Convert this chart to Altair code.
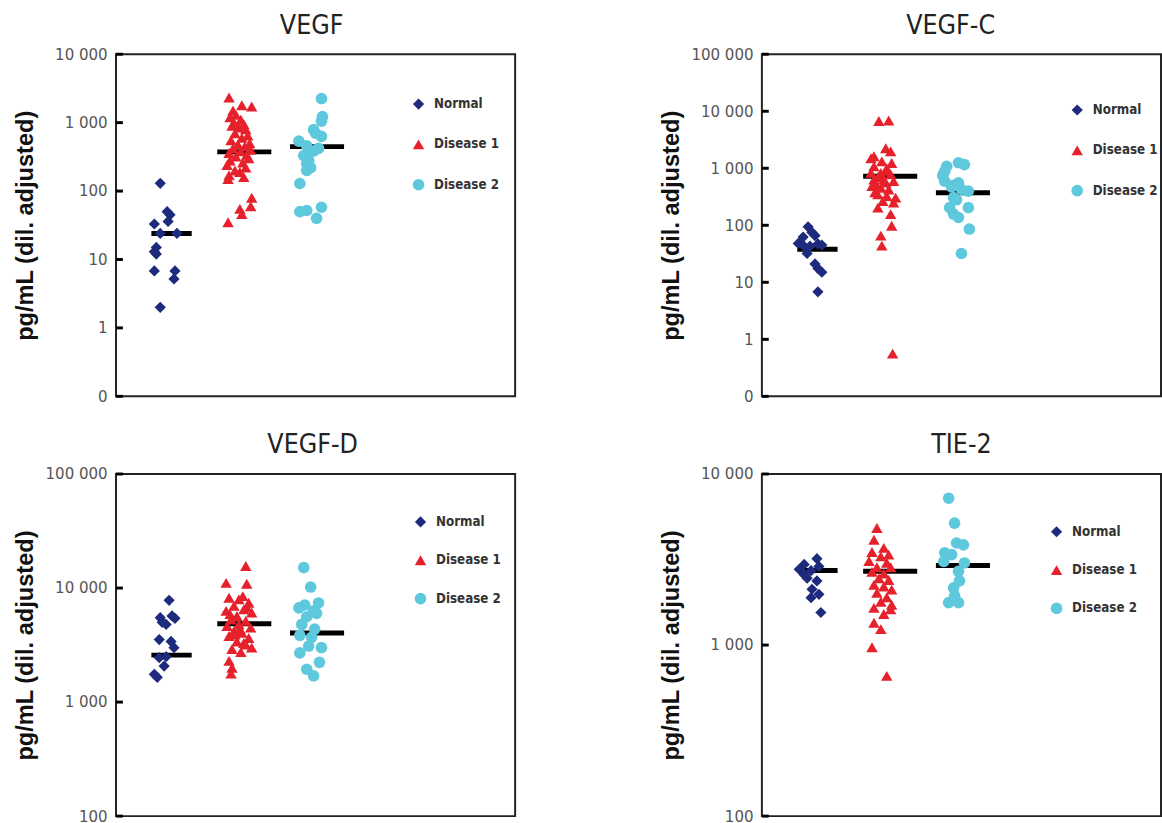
import altair as alt
import pandas as pd

# ---------------- data ----------------
GROUPS = ["Normal", "Disease 1", "Disease 2"]
COLORS = ["#1e2b7d", "#e6212b", "#5ec8dc"]
SHAPES = ["diamond", "triangle-up", "circle"]

# VEGF
vegf_normal = [130, 50, 45, 36, 33, 24, 24, 15, 13, 12, 6.8, 6.8, 5.2, 2.0]
vegf_normal_jit = [-5, 2, 5, 3, -11, -5, 12, -9, -11, -9, -11, 10, 9, -5]
vegf_d1 = [2330, 1800, 1720, 1500, 1300, 1200, 1100, 1000, 950, 900, 850, 800, 700, 650,
           600, 550, 500, 480, 450, 420, 400, 380, 360, 340, 320, 300, 280, 260, 240, 220,
           200, 190, 170, 160, 150, 80, 60, 55, 46, 35]
vegf_d1_jit = [-9, 4, 14, -5, -2, -8, 3, -4, 6, -6, 1, 8, -3, 10, 4, -7, 12, 0, 7, -5,
               13, 3, -9, 9, -2, 11, -8, 5, -11, 8, -3, 2, -9, 6, -10, 14, 13, 2, 4, -10]
vegf_d2 = [2250, 1230, 1050, 790, 700, 630, 537, 457, 420, 385, 330, 280, 250, 220, 200,
           129, 58, 52, 50, 40]
vegf_d2_jit = [12, 13, 12, 4, 6, 12, -11, -3, 9, 4, -6, -1, -3, 1, -3, -10, 12, -3, -10, 7]
vegf_median = [24, 374, 446]

# VEGF-C
vegfc_normal = [94, 75, 66, 62, 50, 48, 47, 45, 43, 41, 32, 21, 17.5, 15, 6.8]
vegfc_normal_jit = [-3, 1, 4, -8, -11, -13, 7, 11, -1, -6, -4, 4, 7, 11, 7]
vegfc_d1 = [6750, 6900, 2250, 1980, 1620, 1500, 1320, 1240, 1080, 1000, 900, 830, 830, 780,
            700, 635, 635, 594, 560, 520, 486, 455, 425, 380, 348, 326, 305, 267, 250, 204,
            157, 98, 66, 44, 0.56]
vegfc_d1_jit = [-5, 5, 2, 7, -10, -13, -2, 8, -10, 3, 4, -13, -3, 7, -6, -10, 0, 10, 2, -8,
                -12, -3, 5, -9, -6, 3, 12, -1, 10, -6, 7, 8, -3, -2, 9]
vegfc_d2 = [1250, 1160, 1080, 890, 750, 594, 556, 500, 470, 427, 398, 305, 280, 204, 204,
            157, 137, 86, 32]
vegfc_d2_jit = [3, 9, -9, -11, -13, -11, 3, -2, -4, 6, 13, -2, 1, -6, 13, -2, 3, 14, 6]
vegfc_median = [38, 726, 372]

# VEGF-D
vegfd_normal = [7800, 5700, 5500, 5420, 5000, 4800, 3530, 3400, 3000, 2500, 2450, 2070, 1750, 1650]
vegfd_normal_jit = [4, 7, -5, 10, -3, 1, -6, 6, 9, 1, -6, -1, -11, -8]
vegfd_d1 = [15600, 11100, 10900, 8500, 8220, 7950, 7430, 6970, 6800, 6500, 6300, 6100, 5900,
            5690, 5300, 5150, 4800, 4650, 4500, 4400, 4200, 4050, 3900, 3800, 3650, 3400,
            3300, 3200, 3000, 2920, 2750, 2300, 2000, 1780]
vegfd_d1_jit = [8, -12, 9, 5, -9, 1, 11, -4, 9, 6, -12, 14, -8, -1, -7, 8, 1, -11, 13, 2,
                -4, 4, -3, -9, 11, -1, 6, 8, 14, -6, 3, -9, -6, -7]
vegfd_d2 = [15100, 10200, 7400, 7100, 6700, 6300, 6000, 5600, 4800, 4360, 3850, 3700, 3100,
            3000, 2700, 2230, 1940, 1700]
vegfd_d2_jit = [-6, 1, 9, -5, -11, 4, 7, -3, -8, 5, -10, 2, -1, 12, -10, 10, -3, 4]
vegfd_median = [2580, 4870, 4040]

# TIE-2
tie2_normal = [3200, 2960, 2880, 2770, 2720, 2580, 2460, 2370, 2120, 1980, 1890, 1550]
tie2_normal_jit = [6, -7, 8, -12, 0, -7, -4, 6, 1, 8, 0, 10]
tie2_d1 = [4830, 4130, 3700, 3500, 3380, 3300, 3100, 3030, 2850, 2850, 2680, 2620, 2460, 2400,
           2250, 2200, 2110, 2020, 1900, 1790, 1720, 1650, 1620, 1520, 1350, 1240, 970, 660]
tie2_d1_jit = [-7, -10, 0, -12, 5, -3, -15, 3, -7, 7, -12, 0, -5, 5, -10, 0, 8, -7, 3, -3,
               8, -10, 7, 0, -10, -3, -12, 3]
tie2_d2 = [7220, 5160, 3950, 3850, 3460, 3380, 3080, 3020, 2700, 2370, 2160, 1940, 1770, 1770]
tie2_d2_jit = [-7, -1, 1, 8, -11, -4, -12, 9, 3, 4, -2, -1, -7, 3]
tie2_median = [2730, 2700, 2920]

# axis ticks / labels
ticks_vegf = [0.1, 1, 10, 100, 1000, 10000]
labels_vegf = ["0", "1", "10", "100", "1 000", "10 000"]
ticks_vegfc = [0.1, 1, 10, 100, 1000, 10000, 100000]
labels_vegfc = ["0", "1", "10", "100", "1 000", "10 000", "100 000"]
ticks_vegfd = [100, 1000, 10000, 100000]
labels_vegfd = ["100", "1 000", "10 000", "100 000"]
ticks_tie2 = [100, 1000, 10000]
labels_tie2 = ["100", "1 000", "10 000"]

# ---------------- layout / style ----------------
W, H = 406, 348
POINT_CENTER = [50, 124, 197]
MED_X1 = [36, 103, 177]
MED_X2 = [77, 158, 232]
SIZES = [130, 140, 140]

NARROW = "DejaVu Sans Condensed, sans-serif"
BOLD_FONT = "Liberation Sans, Arial, sans-serif"


def label_expr(ticks, labels):
    parts = [f"abs(datum.value - {t}) < {t} * 0.001 ? '{l}'" for t, l in zip(ticks, labels)]
    return " : ".join(parts) + " : ''"


def panel(title, vals, jits, medians, domain, ticks, labels, leg_xy, row_pad, title_dx):
    rows = []
    for gi, (g, vs, js) in enumerate(zip(GROUPS, vals, jits)):
        for v, j in zip(vs, js):
            rows.append({"group": g, "value": v, "xpos": POINT_CENTER[gi] + j})
    df = pd.DataFrame(rows)
    med = pd.DataFrame({"group": GROUPS, "value": medians, "x1": MED_X1, "x2": MED_X2})
    tk = pd.DataFrame({"value": ticks})

    yscale = alt.Scale(type="log", domain=domain, nice=False)
    xscale = alt.Scale(domain=[0, W], nice=False, zero=False)
    yaxis = alt.Axis(
        values=ticks,
        labelExpr=label_expr(ticks, labels),
        title="pg/mL (dil. adjusted)",
        grid=False,
        ticks=False,
        domain=False,
        labelPadding=9,
        labelFont=NARROW,
        labelFontSize=17,
        labelColor="#555",
        labelOverlap=False,
        labelBound=False,
        titleFont=BOLD_FONT,
        titleFontWeight="bold",
        titleFontSize=24,
        titleColor="#111",
        titleX=-92,
        titleBaseline="middle",
    )
    y_enc = alt.Y("value:Q", scale=yscale, axis=yaxis)

    med_layer = alt.Chart(med).mark_rule(color="black", strokeWidth=5, strokeCap="butt").encode(
        x=alt.X("x1:Q", scale=xscale, axis=None),
        x2="x2:Q",
        y=y_enc,
    )

    pts = alt.Chart(df).mark_point(filled=True, opacity=1).encode(
        x=alt.X("xpos:Q", scale=xscale, axis=None),
        y=y_enc,
        color=alt.Color(
            "group:N",
            scale=alt.Scale(domain=GROUPS, range=COLORS),
            legend=alt.Legend(
                orient="none",
                legendX=leg_xy[0],
                legendY=leg_xy[1],
                title=None,
                labelFont=NARROW,
                labelFontWeight="bold",
                labelFontSize=13.5,
                labelColor="#333",
                symbolSize=55,
                rowPadding=row_pad,
                labelOffset=9,
                padding=0,
                symbolStrokeWidth=0,
            ),
        ),
        shape=alt.Shape("group:N", scale=alt.Scale(domain=GROUPS, range=SHAPES)),
        size=alt.Size("group:N", scale=alt.Scale(domain=GROUPS, range=SIZES), legend=None),
    )

    tick_layer = alt.Chart(tk).mark_rule(color="black", strokeWidth=3).encode(
        y=y_enc,
        x=alt.value(0),
        x2=alt.value(7),
    )

    return alt.layer(med_layer, pts, tick_layer).properties(
        width=W,
        height=H,
        title=alt.TitleParams(
            text=title,
            font=NARROW,
            fontSize=27,
            fontWeight="normal",
            color="#222",
            anchor="middle",
            frame="group",
            dx=title_dx,
            offset=6,
        ),
    )


p1 = panel("VEGF", [vegf_normal, vegf_d1, vegf_d2],
           [vegf_normal_jit, vegf_d1_jit, vegf_d2_jit], vegf_median,
           [0.1, 10000], ticks_vegf, labels_vegf, (301, 44), 26, -4)
p2 = panel("VEGF-C", [vegfc_normal, vegfc_d1, vegfc_d2],
           [vegfc_normal_jit, vegfc_d1_jit, vegfc_d2_jit], vegfc_median,
           [0.1, 100000], ticks_vegfc, labels_vegfc, (314, 50), 26, -11)
p3 = panel("VEGF-D", [vegfd_normal, vegfd_d1, vegfd_d2],
           [vegfd_normal_jit, vegfd_d1_jit, vegfd_d2_jit], vegfd_median,
           [100, 100000], ticks_vegfd, labels_vegfd, (303, 42), 24, -3)
p4 = panel("TIE-2", [tie2_normal, tie2_d1, tie2_d2],
           [tie2_normal_jit, tie2_d1_jit, tie2_d2_jit], tie2_median,
           [100, 10000], ticks_tie2, labels_tie2, (293, 52), 24, 0)


def indep(c):
    return c.resolve_scale(color="independent", shape="independent", size="independent",
                           y="independent", x="independent").resolve_legend(
        color="independent", shape="independent")


top = indep(alt.hconcat(p1, p2, spacing=145))
bottom = indep(alt.hconcat(p3, p4, spacing=145))
chart = indep(alt.vconcat(top, bottom, spacing=26))

chart = chart.properties(
    padding={"left": 13, "top": 4, "right": 0, "bottom": 0},
    background="white",
).configure_view(stroke="#222", strokeWidth=2)

chart.save("out.html", embed_options={"renderer": "svg", "actions": False})
